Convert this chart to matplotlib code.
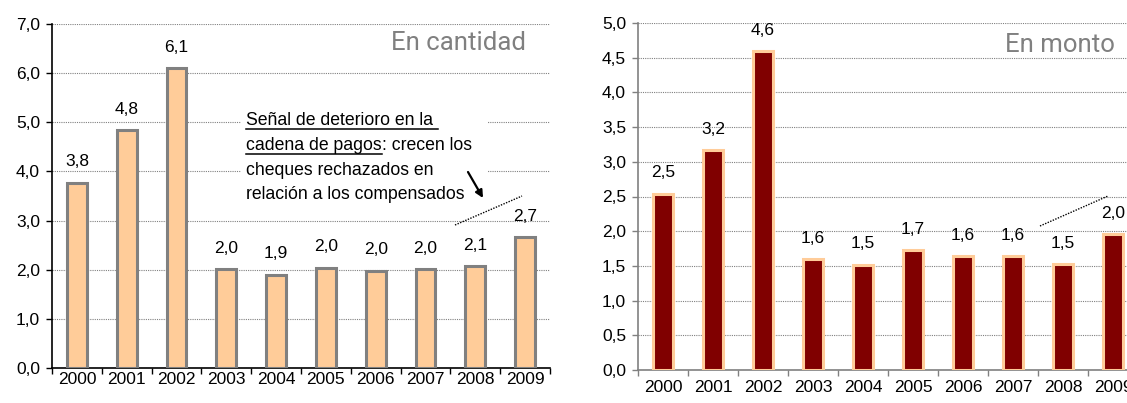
import matplotlib
matplotlib.use('Agg')
import matplotlib.pyplot as plt
from matplotlib.lines import Line2D
from matplotlib.patches import Rectangle
import numpy as np

# ---------------- data ----------------
years = ['2000', '2001', '2002', '2003', '2004', '2005', '2006', '2007', '2008', '2009']
cantidad = [3.77, 4.84, 6.10, 2.01, 1.90, 2.04, 1.98, 2.01, 2.07, 2.67]
monto = [2.54, 3.17, 4.60, 1.60, 1.52, 1.73, 1.64, 1.64, 1.53, 1.96]
cantidad_ticks = [0.0, 1.0, 2.0, 3.0, 4.0, 5.0, 6.0, 7.0]
monto_ticks = [0.0, 0.5, 1.0, 1.5, 2.0, 2.5, 3.0, 3.5, 4.0, 4.5, 5.0]
title_left = 'En cantidad'
title_right = 'En monto'
note_line1 = 'Señal de deterioro en la '
note_line2a = 'cadena de pagos'
note_line2b = ': crecen los'
note_line3 = 'cheques rechazados en'
note_line4 = 'relación a los compensados'

plt.rcParams['font.family'] = ['Liberation Sans', 'DejaVu Sans']

W, H = 1127, 403
fig = plt.figure(figsize=(W / 100, H / 100), dpi=100)


def fx(px):
    return px / W


def fy(py):
    return 1 - py / H


def fmt(v):
    return f'{v:.1f}'.replace('.', ',')


ax1 = fig.add_axes([fx(52), fy(368), (550 - 52) / W, (368 - 24) / H])
ax2 = fig.add_axes([fx(638), fy(370), 500 / W, (370 - 23) / H])


def style(ax, vals, ticks, face, edge, spine_color, xpad):
    x = np.arange(len(years))
    ax.bar(x, vals, width=0.4, color=face, edgecolor=edge, linewidth=2.2, zorder=3)
    ax.set_xlim(-0.5, len(years) - 0.5)
    ax.set_ylim(ticks[0], ticks[-1])
    ax.set_yticks(ticks)
    ax.set_yticklabels([fmt(t) for t in ticks])
    ax.set_xticks(x)
    ax.set_xticklabels(years)
    ax.set_xticks(np.arange(-0.5, len(years), 1), minor=True)
    ax.tick_params(axis='x', which='major', length=0, pad=xpad, labelsize=12.5)
    ax.tick_params(axis='x', which='minor', length=4.3, width=1, color=spine_color,
                   direction='out')
    ax.tick_params(axis='y', which='major', length=4.3, width=1, pad=4.3,
                   color=spine_color, labelsize=12.5)
    for s in ['top', 'right']:
        ax.spines[s].set_visible(False)
    for s in ['left', 'bottom']:
        ax.spines[s].set_color(spine_color)
        ax.spines[s].set_linewidth(1.2)
    ax.yaxis.grid(True, linestyle=(0, (1, 1)), color='#808080', linewidth=0.8)
    ax.set_axisbelow(True)
    for xi, v in zip(x, vals):
        ax.annotate(fmt(v), (xi, v), xytext=(0, 11.7), textcoords='offset points',
                    ha='center', va='baseline', fontsize=12.5, color='black',
                    annotation_clip=False)


style(ax1, cantidad, cantidad_ticks, '#FFCC99', '#808080', 'black', 3)
style(ax2, monto, monto_ticks, '#800000', '#FFCC99', '#808080', 7)

# titles inside panels
narrow = ['Roboto', 'Liberation Sans', 'DejaVu Sans']
fig.text(fx(526), fy(43), title_left, ha='right', va='center', fontsize=18.5,
         color='#808080', family=narrow)
fig.text(fx(1115), fy(45), title_right, ha='right', va='center', fontsize=18.5,
         color='#808080', family=narrow)

# white box behind annotation
ax1.add_patch(Rectangle((fx(241), fy(208)), (488 - 241) / W, (208 - 100) / H,
                        transform=fig.transFigure, facecolor='white',
                        edgecolor='none', zorder=1.5))

fs_note = 12.7
x0 = fx(246)
t1 = fig.text(x0, fy(125), note_line1, ha='left', va='baseline', fontsize=fs_note)
t2a = fig.text(x0, fy(150), note_line2a, ha='left', va='baseline', fontsize=fs_note)
fig.text(x0, fy(175), note_line3, ha='left', va='baseline', fontsize=fs_note)
fig.text(x0, fy(199), note_line4, ha='left', va='baseline', fontsize=fs_note)

renderer = fig.canvas.get_renderer()
bb1 = t1.get_window_extent(renderer)
bb2 = t2a.get_window_extent(renderer)
fig.text(bb2.x1 / W, fy(150), note_line2b, ha='left', va='baseline', fontsize=fs_note)
fig.add_artist(Line2D([bb1.x0 / W, bb1.x1 / W], [fy(129), fy(129)],
                      transform=fig.transFigure, color='black', lw=1.1))
fig.add_artist(Line2D([bb2.x0 / W, bb2.x1 / W], [fy(153.5), fy(153.5)],
                      transform=fig.transFigure, color='black', lw=1.1))

# arrow
ax1.annotate('', xy=(483, H - 198), xytext=(468, H - 172), xycoords='figure pixels',
             textcoords='figure pixels',
             arrowprops=dict(arrowstyle='-|>', lw=1.6, color='black', mutation_scale=11,
                             shrinkA=0, shrinkB=0))

# dotted trend lines
fig.add_artist(Line2D([fx(455), fx(522)], [fy(225), fy(196)], transform=fig.transFigure,
                      color='black', lw=1.0, linestyle=(0, (1, 1))))
fig.add_artist(Line2D([fx(1040), fx(1108)], [fy(226), fy(196)], transform=fig.transFigure,
                      color='black', lw=1.0, linestyle=(0, (1, 1))))

fig.savefig('out.png', dpi=100)
